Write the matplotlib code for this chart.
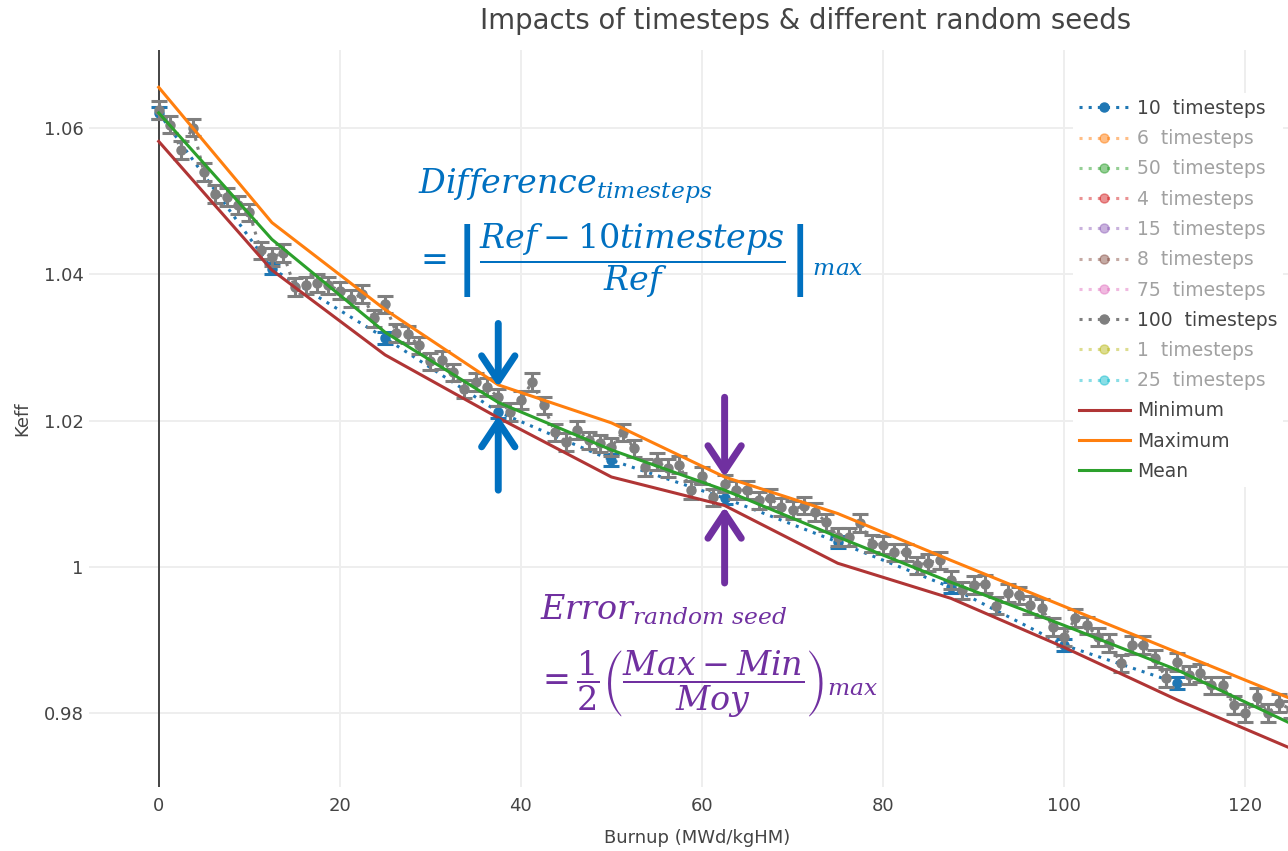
import numpy as np
import matplotlib
matplotlib.use('Agg')
import matplotlib.pyplot as plt
from matplotlib.lines import Line2D

plt.rcParams['font.family'] = ['DejaVu Sans']
plt.rcParams['mathtext.fontset'] = 'dejavuserif'

# ---- data ----
# 100 timesteps (grey points with error bars)
burnup_100 = [0, 1.25, 2.5, 3.75, 5, 6.25, 7.5, 8.75, 10, 11.25,
              12.5, 13.75, 15, 16.25, 17.5, 18.75, 20, 21.25, 22.5, 23.75,
              25, 26.25, 27.5, 28.75, 30, 31.25, 32.5, 33.75, 35, 36.25,
              37.5, 38.75, 40, 41.25, 42.5, 43.75, 45, 46.25, 47.5, 48.75,
              50, 51.25, 52.5, 53.75, 55, 56.25, 57.5, 58.75, 60, 61.25,
              62.5, 63.75, 65, 66.25, 67.5, 68.75, 70, 71.25, 72.5, 73.75,
              75, 76.25, 77.5, 78.75, 80, 81.25, 82.5, 83.75, 85, 86.25,
              87.5, 88.75, 90, 91.25, 92.5, 93.75, 95, 96.25, 97.5, 98.75,
              100, 101.25, 102.5, 103.75, 105, 106.25, 107.5, 108.75, 110, 111.25,
              112.5, 113.75, 115, 116.25, 117.5, 118.75, 120, 121.25, 122.5, 123.75,
              125]
keff_100 = [1.0625, 1.0605, 1.0570, 1.0601, 1.0540, 1.0510, 1.0506, 1.0495, 1.0485, 1.0433,
            1.0424, 1.0429, 1.0383, 1.0385, 1.0388, 1.0385, 1.0378, 1.0367, 1.0373, 1.0340,
            1.0359, 1.0320, 1.0318, 1.0303, 1.0281, 1.0283, 1.0266, 1.0243, 1.0253, 1.0246,
            1.0232, 1.0212, 1.0228, 1.0253, 1.0221, 1.0184, 1.0171, 1.0187, 1.0173, 1.0169,
            1.0164, 1.0184, 1.0162, 1.0136, 1.0144, 1.0135, 1.0140, 1.0105, 1.0125, 1.0095,
            1.0114, 1.0105, 1.0105, 1.0091, 1.0094, 1.0082, 1.0078, 1.0084, 1.0075, 1.0061,
            1.0041, 1.0041, 1.0060, 1.0032, 1.0030, 1.0020, 1.0020, 1.0002, 1.0006, 1.0009,
            0.9982, 0.9968, 0.9975, 0.9977, 0.9947, 0.9964, 0.9961, 0.9948, 0.9944, 0.9918,
            0.9904, 0.9930, 0.9920, 0.9904, 0.9896, 0.9868, 0.9893, 0.9893, 0.9875, 0.9848,
            0.9870, 0.9852, 0.9855, 0.9838, 0.9838, 0.9811, 0.9800, 0.9822, 0.9800, 0.9814,
            0.9805]
err_100 = 0.0012

# 10 timesteps (blue)
burnup_10 = [0, 12.5, 25, 37.5, 50, 62.5, 75, 87.5, 100, 112.5]
keff_10 = [1.0621, 1.0408, 1.0313, 1.0212, 1.0146, 1.0094, 1.0034, 0.9972, 0.9893, 0.9841]
err_10 = 0.0008

# envelope over the random seeds
burnup_env = [0, 12.5, 25, 37.5, 50, 62.5, 75, 87.5, 100, 112.5, 125]
keff_min = [1.0582, 1.0406, 1.0290, 1.0204, 1.0123, 1.0084, 1.0005, 0.9957, 0.9890, 0.9818, 0.9752]
keff_max = [1.0656, 1.0471, 1.0352, 1.0249, 1.0197, 1.0123, 1.0073, 1.0009, 0.9946, 0.9883, 0.9820]
keff_mean = [1.0621, 1.0448, 1.0321, 1.0225, 1.0160, 1.0105, 1.0041, 0.9979, 0.9920, 0.9859, 0.9786]

legend_hidden = ['6  timesteps', '50  timesteps', '4  timesteps', '15  timesteps',
                 '8  timesteps', '75  timesteps']
legend_hidden2 = ['1  timesteps', '25  timesteps']
colors_hidden = ['#ff7f0e', '#2ca02c', '#d62728', '#9467bd', '#8c564b', '#e377c2']
colors_hidden2 = ['#bcbd22', '#17becf']

yticks = [0.98, 1.0, 1.02, 1.04, 1.06]
xticks = [0, 20, 40, 60, 80, 100, 120]

txt = '#444444'
dot = (0, (1, 2))

fig = plt.figure(figsize=(12.88, 8.51), dpi=100)
ax = fig.add_axes([89 / 1288, 1 - 787 / 851, (1305 - 89) / 1288, (787 - 50) / 851])

ax.set_xlim(-7.7, 126.6)
ax.set_ylim(0.9699, 1.0707)
for s in ax.spines.values():
    s.set_visible(False)
ax.set_xticks(xticks)
ax.set_yticks(yticks)
ax.set_yticklabels([f'{v:g}' for v in yticks])
ax.tick_params(length=0, labelsize=13, labelcolor=txt, pad=4)
ax.tick_params(axis='x', pad=7)
ax.grid(True, color='#eeeeee', lw=1.4)
ax.set_axisbelow(True)
ax.axvline(0, color='#444444', lw=1.4, zorder=1)

e10 = ax.errorbar(burnup_10, keff_10, yerr=err_10, color='#1f77b4', ls=dot, lw=2.2,
                  marker='o', ms=6.5, capsize=5.5, capthick=2.2, elinewidth=2.2, zorder=2)
e100 = ax.errorbar(burnup_100, keff_100, yerr=err_100, color='#7f7f7f', ls=dot, lw=2.2,
                   marker='o', ms=6.5, capsize=5.5, capthick=2.2, elinewidth=2.2, zorder=3)
l_min, = ax.plot(burnup_env, keff_min, color='#b03535', lw=2.2, zorder=4)
l_max, = ax.plot(burnup_env, keff_max, color='#ff7f0e', lw=2.2, zorder=4)
l_mean, = ax.plot(burnup_env, keff_mean, color='#2ca02c', lw=2.2, zorder=4)

ax.set_xlabel('Burnup (MWd/kgHM)', fontsize=13, color=txt, labelpad=10)
ax.set_ylabel('Keff', fontsize=13, color=txt, labelpad=9)
fig.text(806 / 1288, 1 - 21 / 851, 'Impacts of timesteps & different random seeds',
         ha='center', va='center', fontsize=19.8, color=txt)

# legend (hidden traces are legend-only, shown faded)
def proxy(c):
    return Line2D([], [], color=c, ls=dot, lw=2.2, marker='o', ms=6.5, alpha=0.5)

handles = [e10[0]] + [proxy(c) for c in colors_hidden] + [e100[0]] + \
          [proxy(c) for c in colors_hidden2] + [l_min, l_max, l_mean]
labels = ['10  timesteps'] + legend_hidden + ['100  timesteps'] + legend_hidden2 + \
         ['Minimum', 'Maximum', 'Mean']
leg = ax.legend(handles, labels, loc='upper left', bbox_to_anchor=(1064 / 1288, 1 - 84 / 851),
                bbox_transform=fig.transFigure, fontsize=13.5, frameon=True, fancybox=False,
                edgecolor='none', facecolor='white', framealpha=1, numpoints=1,
                handlelength=2.7, handletextpad=0.4, labelspacing=0.6, borderpad=0.3)
leg.set_zorder(10)
hidden = set(legend_hidden + legend_hidden2)
for t in leg.get_texts():
    t.set_color(txt)
    if t.get_text() in hidden:
        t.set_alpha(0.5)

# annotations
blue = '#0070c0'
purple = '#7030a0'
fig.text(418 / 1288, 1 - 186 / 851, r'$Difference_{timesteps}$', color=blue,
         fontsize=24, ha='left', va='center')
fig.text(414 / 1288, 1 - 261 / 851,
         r'$=\left|\dfrac{Ref-10timesteps}{Ref}\right|_{max}$', color=blue,
         fontsize=24, ha='left', va='center')
fig.text(540 / 1288, 1 - 610 / 851, r'$Error_{random\ seed}$', color=purple,
         fontsize=24, ha='left', va='center')
fig.text(536 / 1288, 1 - 684 / 851,
         r'$=\dfrac{1}{2}\left(\dfrac{Max-Min}{Moy}\right)_{max}$', color=purple,
         fontsize=24, ha='left', va='center')

arrow_kw = dict(arrowstyle='->, head_length=0.9, head_width=0.6', lw=5,
                capstyle='round', joinstyle='round', shrinkA=0, shrinkB=0,
                mutation_scale=20)
ax.annotate('', xy=(37.5, 1.0246), xytext=(37.5, 1.0333),
            arrowprops=dict(color=blue, **arrow_kw), zorder=11)
ax.annotate('', xy=(37.5, 1.0207), xytext=(37.5, 1.0105),
            arrowprops=dict(color=blue, **arrow_kw), zorder=11)
ax.annotate('', xy=(62.5, 1.0123), xytext=(62.5, 1.0232),
            arrowprops=dict(color=purple, **arrow_kw), zorder=11)
ax.annotate('', xy=(62.5, 1.0082), xytext=(62.5, 0.9978),
            arrowprops=dict(color=purple, **arrow_kw), zorder=11)

fig.savefig('out.png', dpi=100)
